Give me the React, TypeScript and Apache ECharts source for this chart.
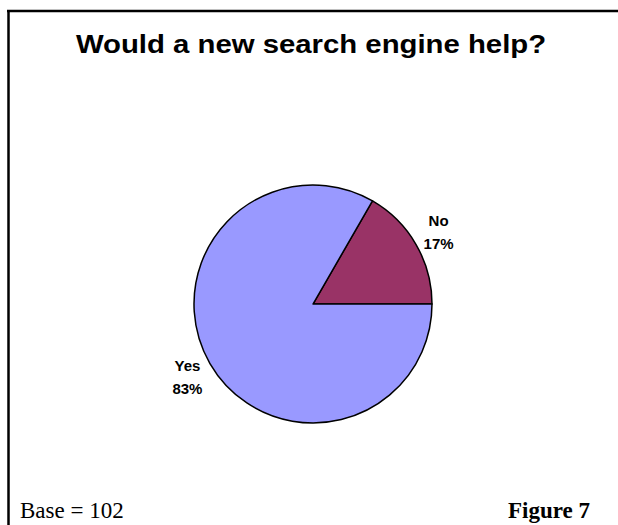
import React, { useEffect, useRef } from 'react';
import * as echarts from 'echarts';

const categories = ['No', 'Yes'];
const counts = [17, 85];
const colors = ['#993366', '#9999FF'];
const titleText = 'Would a new search engine help?';
const baseNote = 'Base = 102';
const figureNote = 'Figure 7';

export default function App() {
  const ref = useRef<HTMLDivElement>(null);
  useEffect(() => {
    const chart = echarts.init(ref.current!, null, { renderer: 'svg' });
    const cx = 313, cy = 304, r = 119, labelR = 145;
    const total = counts.reduce((a, b) => a + b, 0);
    const mids: number[] = [];
    let acc = 0;
    counts.forEach((v) => {
      const a = (v / total) * 360;
      mids.push(acc + a / 2);
      acc += a;
    });
    chart.setOption({
      animation: false,
      backgroundColor: '#ffffff',
      series: [
        {
          type: 'pie',
          center: [cx, cy],
          radius: r,
          startAngle: 0,
          clockwise: false,
          percentPrecision: 0,
          avoidLabelOverlap: false,
          silent: true,
          data: categories.map((c, i) => ({ name: c, value: counts[i], itemStyle: { color: colors[i] } })),
          itemStyle: { borderColor: '#000000', borderWidth: 1.5 },
          label: {
            show: true,
            position: 'outside',
            formatter: '{b}\n{d}%',
            fontFamily: '"Liberation Sans", Arial, sans-serif',
            fontWeight: 'bold',
            fontSize: 15,
            lineHeight: 23,
            color: '#000000',
          },
          labelLine: { show: false },
          labelLayout: (p: any) => {
            const m = (mids[p.dataIndex] * Math.PI) / 180;
            return {
              x: cx + labelR * Math.cos(m),
              y: cy - labelR * Math.sin(m),
              align: 'center',
              verticalAlign: 'middle',
            };
          },
        },
      ],
      graphic: [
        { type: 'line', shape: { x1: 7, y1: 11, x2: 618, y2: 11 }, style: { stroke: '#000', lineWidth: 2.5 } },
        { type: 'line', shape: { x1: 8.5, y1: 10, x2: 8.5, y2: 525 }, style: { stroke: '#000', lineWidth: 2.5 } },
        {
          type: 'text',
          x: 311,
          y: 44,
          scaleX: 1.128,
          style: {
            text: titleText,
            font: 'bold 26px "Liberation Sans", Arial, sans-serif',
            fill: '#000',
            textAlign: 'center',
            textVerticalAlign: 'middle',
          },
        },
        {
          type: 'text',
          x: 20,
          y: 510,
          style: {
            text: baseNote,
            font: '23px "Liberation Serif", "Times New Roman", serif',
            fill: '#000',
            textAlign: 'left',
            textVerticalAlign: 'middle',
          },
        },
        {
          type: 'text',
          x: 590,
          y: 510,
          style: {
            text: figureNote,
            font: 'bold 23px "Liberation Serif", "Times New Roman", serif',
            fill: '#000',
            textAlign: 'right',
            textVerticalAlign: 'middle',
          },
        },
      ],
    });
    return () => chart.dispose();
  }, []);
  return (
    <div
      ref={ref}
      style={{ position: 'absolute', left: 0, top: 0, width: 618, height: 525, background: '#fff' }}
    />
  );
}
